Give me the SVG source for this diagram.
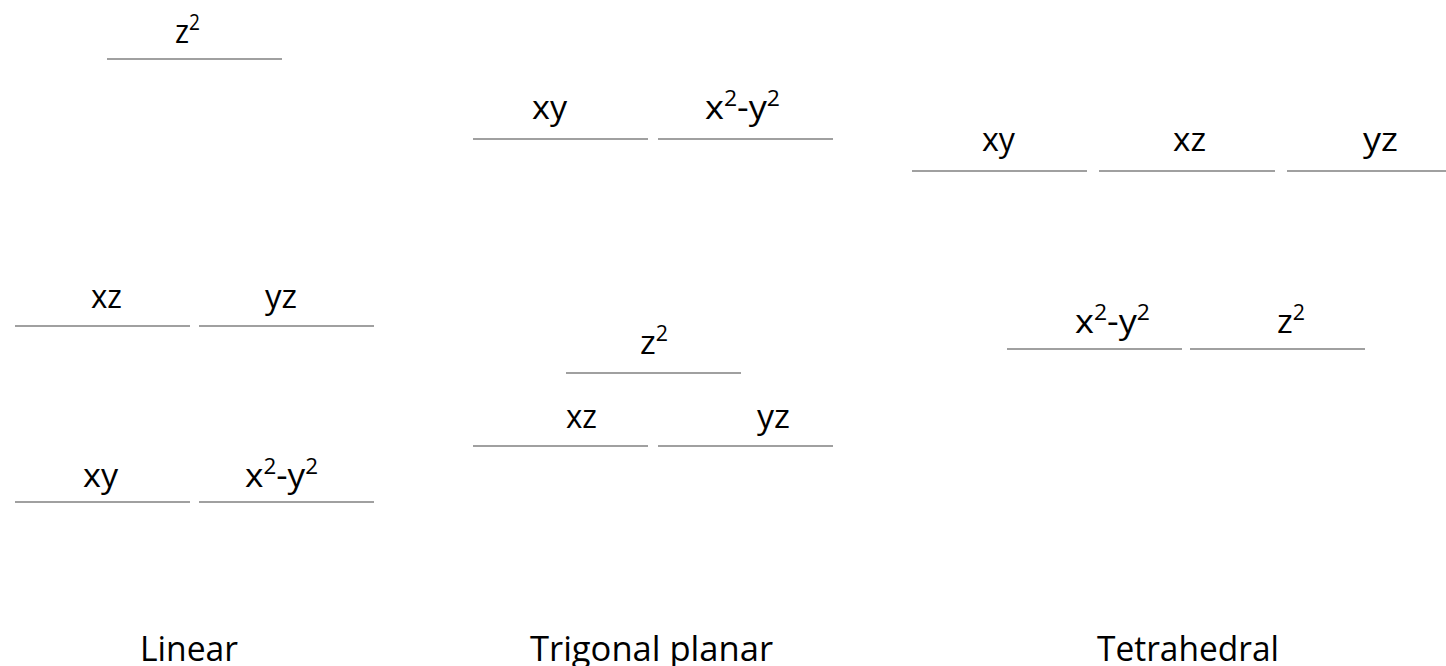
<svg xmlns="http://www.w3.org/2000/svg" width="1446" height="666" viewBox="0 0 1446 666">
<style>
.lvl{stroke:#808080;stroke-width:1.5;fill:none}
.t{font-family:"Open Sans","Liberation Sans",sans-serif;font-size:33px;fill:#000}
.s{font-size:21px}
.lab{font-family:"Open Sans","Liberation Sans",sans-serif;font-size:35px;fill:#000}
</style>
<rect width="1446" height="666" fill="#fff"/>
<g id="linear">
<g id="lin-z2"><line class="lvl" x1="107" y1="59" x2="282" y2="59"/><text class="t" x="175" y="43" textLength="25" lengthAdjust="spacingAndGlyphs">z<tspan class="s" dy="-13">2</tspan></text></g>
<g id="lin-xz"><line class="lvl" x1="15" y1="326" x2="190" y2="326"/><text class="t" x="91" y="308" textLength="31" lengthAdjust="spacingAndGlyphs">xz</text></g>
<g id="lin-yz"><line class="lvl" x1="199" y1="326" x2="374" y2="326"/><text class="t" x="265" y="308" textLength="32" lengthAdjust="spacingAndGlyphs">yz</text></g>
<g id="lin-xy"><line class="lvl" x1="15" y1="502" x2="190" y2="502"/><text class="t" x="83" y="487" textLength="35" lengthAdjust="spacingAndGlyphs">xy</text></g>
<g id="lin-x2y2"><line class="lvl" x1="199" y1="502" x2="374" y2="502"/><text class="t" x="245" y="487" textLength="73" lengthAdjust="spacingAndGlyphs">x<tspan class="s" dy="-13">2</tspan><tspan dy="13">-y</tspan><tspan class="s" dy="-13">2</tspan></text></g>
<text id="lab-linear" class="lab" x="140" y="661" textLength="98" lengthAdjust="spacingAndGlyphs">Linear</text>
</g>
<g id="trigonal">
<g id="tri-xy"><line class="lvl" x1="473" y1="139" x2="648" y2="139"/><text class="t" x="532" y="119" textLength="35" lengthAdjust="spacingAndGlyphs">xy</text></g>
<g id="tri-x2y2"><line class="lvl" x1="658" y1="139" x2="833" y2="139"/><text class="t" x="705" y="119" textLength="75" lengthAdjust="spacingAndGlyphs">x<tspan class="s" dy="-13">2</tspan><tspan dy="13">-y</tspan><tspan class="s" dy="-13">2</tspan></text></g>
<g id="tri-z2"><line class="lvl" x1="566" y1="373" x2="741" y2="373"/><text class="t" x="640" y="354" textLength="28" lengthAdjust="spacingAndGlyphs">z<tspan class="s" dy="-13">2</tspan></text></g>
<g id="tri-xz"><line class="lvl" x1="473" y1="446" x2="648" y2="446"/><text class="t" x="566" y="428" textLength="31" lengthAdjust="spacingAndGlyphs">xz</text></g>
<g id="tri-yz"><line class="lvl" x1="658" y1="446" x2="833" y2="446"/><text class="t" x="757" y="428" textLength="33" lengthAdjust="spacingAndGlyphs">yz</text></g>
<text id="lab-trigonal" class="lab" x="530" y="661" textLength="243" lengthAdjust="spacingAndGlyphs">Trigonal planar</text>
</g>
<g id="tetrahedral">
<g id="tet-xy"><line class="lvl" x1="912" y1="171" x2="1087" y2="171"/><text class="t" x="982" y="151" textLength="33" lengthAdjust="spacingAndGlyphs">xy</text></g>
<g id="tet-xz"><line class="lvl" x1="1099" y1="171" x2="1275" y2="171"/><text class="t" x="1173" y="151" textLength="33" lengthAdjust="spacingAndGlyphs">xz</text></g>
<g id="tet-yz"><line class="lvl" x1="1287" y1="171" x2="1446" y2="171"/><text class="t" x="1363" y="151" textLength="35" lengthAdjust="spacingAndGlyphs">yz</text></g>
<g id="tet-x2y2"><line class="lvl" x1="1007" y1="349" x2="1182" y2="349"/><text class="t" x="1075" y="333" textLength="75" lengthAdjust="spacingAndGlyphs">x<tspan class="s" dy="-13">2</tspan><tspan dy="13">-y</tspan><tspan class="s" dy="-13">2</tspan></text></g>
<g id="tet-z2"><line class="lvl" x1="1190" y1="349" x2="1365" y2="349"/><text class="t" x="1277" y="333" textLength="28" lengthAdjust="spacingAndGlyphs">z<tspan class="s" dy="-13">2</tspan></text></g>
<text id="lab-tetra" class="lab" x="1097" y="661" textLength="182" lengthAdjust="spacingAndGlyphs">Tetrahedral</text>
</g>
<g id="connectors"/>
</svg>
